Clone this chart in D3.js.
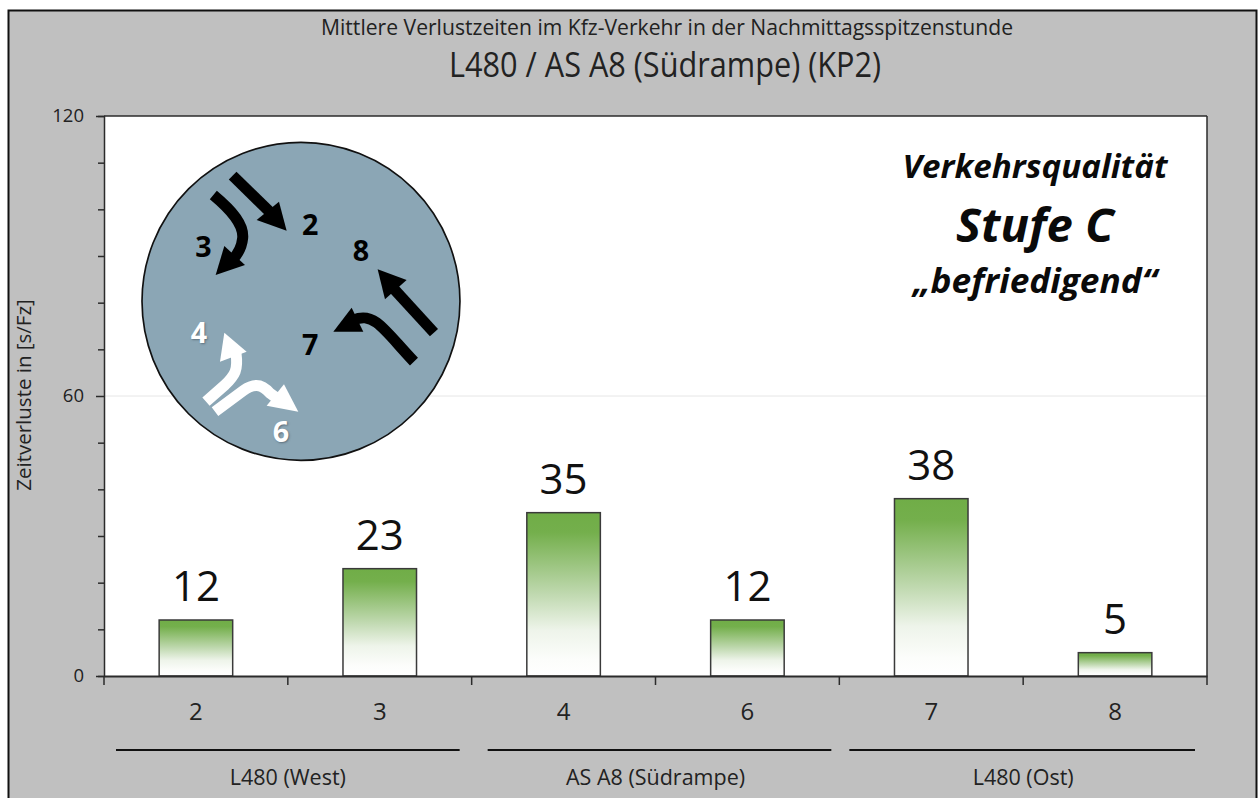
<!DOCTYPE html>
<html lang="de">
<head>
<meta charset="utf-8">
<title>Mittlere Verlustzeiten L480 / AS A8</title>
<script src="https://cdnjs.cloudflare.com/ajax/libs/d3/7.8.5/d3.min.js"></script>
<style>
html,body{margin:0;padding:0;background:#fff}
svg{display:block}
text{font-family:"Open Sans","Noto Sans",sans-serif;fill:#222}
</style>
</head>
<body>
<svg id="chart" width="1258" height="798"></svg>
<script>
// Chart content
const streams = ["2", "3", "4", "6", "7", "8"];
const delays = [12, 23, 35, 12, 38, 5];
const yMajorTicks = [0, 60, 120];
const yAllTicks = [0, 10, 20, 30, 40, 50, 60, 70, 80, 90, 100, 110, 120];
const approachNames = ["L480 (West)", "AS A8 (Südrampe)", "L480 (Ost)"];
const approachStreams = [["2", "3"], ["4", "6"], ["7", "8"]];
const approachInsets = [[12, 12], [16, 8], [10, 12]];
const titleLines = ["Mittlere Verlustzeiten im Kfz-Verkehr in der Nachmittagsspitzenstunde", "L480 / AS A8 (Südrampe) (KP2)"];
const yAxisLabel = "Zeitverluste in [s/Fz]";
const qualityLines = ["Verkehrsqualität", "Stufe C", "„befriedigend“"];

const svg = d3.select("#chart");
const plot = {left: 104, right: 1207, top: 116, bottom: 676};
const ink = "#2b2b2b";

const x = d3.scaleBand().domain(streams).range([plot.left, plot.right]).paddingInner(0.6).paddingOuter(0.3);
const slot = d3.scaleBand().domain(streams).range([plot.left, plot.right]);
const y = d3.scaleLinear().domain([0, 120]).range([plot.bottom, plot.top]);

// Grey page panel with its black frame, open at the lower edge
svg.append("rect").attr("width", 1258).attr("height", 798).attr("fill", "#fff");
svg.append("rect").attr("x", 8).attr("y", 10).attr("width", 1249).attr("height", 788).attr("fill", "#c0c0c0");
svg.append("path").attr("d", "M8.5,798V10.5H1256.5V798").attr("fill", "none").attr("stroke", "#111").attr("stroke-width", 2);

// Plot area
svg.append("rect").attr("x", plot.left).attr("y", plot.top)
  .attr("width", plot.right - plot.left).attr("height", plot.bottom - plot.top).attr("fill", "#fff");
svg.append("line").attr("x1", plot.left).attr("x2", plot.right).attr("y1", y(60)).attr("y2", y(60))
  .attr("stroke", "#e6e6e6").attr("stroke-width", 1);

// Bar fill fades from green into white
const defs = svg.append("defs");
const grad = defs.append("linearGradient").attr("id", "barFade").attr("x1", 0).attr("x2", 0).attr("y1", 0).attr("y2", 1);
[[0, "#70ad47"], [0.12, "#74af4c"], [0.5, "#c0d9b0"], [0.72, "#eef4ea"], [0.9, "#fcfdfb"], [1, "#ffffff"]]
  .forEach(s => grad.append("stop").attr("offset", s[0]).attr("stop-color", s[1]));

svg.append("g").selectAll("rect").data(streams).join("rect")
  .attr("x", d => x(d)).attr("width", x.bandwidth())
  .attr("y", (d, i) => y(delays[i])).attr("height", (d, i) => y(0) - y(delays[i]))
  .attr("fill", "url(#barFade)").attr("stroke", "#3a3a3a").attr("stroke-width", 1.5);

svg.append("g").selectAll("text").data(streams).join("text")
  .attr("x", d => x(d) + x.bandwidth() / 2)
  .attr("y", (d, i) => y(delays[i]) - 19)
  .attr("text-anchor", "middle").attr("font-size", 42).style("fill", "#111")
  .text((d, i) => delays[i]);

// Axes
const yAxis = svg.append("g").attr("transform", `translate(${plot.left},0)`)
  .call(d3.axisLeft(y).tickValues(yAllTicks).tickSize(6).tickPadding(14)
    .tickFormat(d => yMajorTicks.includes(d) ? d : ""));
yAxis.selectAll(".tick text").attr("font-size", 18.5).attr("font-family", null);
yAxis.selectAll(".tick line").attr("stroke", ink).attr("stroke-width", 1.5);
yAxis.selectAll(".tick").filter(d => yMajorTicks.includes(d)).select("line").attr("x2", -8);
yAxis.select(".domain").attr("stroke", ink).attr("stroke-width", 1.5);

svg.append("line").attr("x1", plot.left).attr("x2", plot.right).attr("y1", plot.top).attr("y2", plot.top)
  .attr("stroke", ink).attr("stroke-width", 1.5);
svg.append("line").attr("x1", plot.right).attr("x2", plot.right).attr("y1", plot.top).attr("y2", plot.bottom)
  .attr("stroke", ink).attr("stroke-width", 1.5);

const xAxis = svg.append("g").attr("transform", `translate(0,${plot.bottom})`)
  .call(d3.axisBottom(slot).tickSize(0).tickPadding(27));
xAxis.selectAll(".tick text").attr("font-size", 24).attr("font-family", null);
xAxis.select(".domain").attr("stroke", ink).attr("stroke-width", 2);
svg.append("g").selectAll("line").data([...streams.map(d => slot(d)), plot.right]).join("line")
  .attr("x1", d => d).attr("x2", d => d).attr("y1", plot.bottom).attr("y2", plot.bottom + 9)
  .attr("stroke", ink).attr("stroke-width", 1.5);

// Approach groups under the axis
approachNames.forEach((name, i) => {
  const [a, b] = approachStreams[i];
  const x0 = slot(a), x1 = slot(b) + slot.bandwidth();
  svg.append("line").attr("x1", x0 + approachInsets[i][0]).attr("x2", x1 - approachInsets[i][1])
    .attr("y1", 750).attr("y2", 750).attr("stroke", "#111").attr("stroke-width", 2);
  svg.append("text").attr("x", (x0 + x1) / 2).attr("y", 785).attr("text-anchor", "middle")
    .attr("font-size", 21.5).text(name);
});

// Titles
svg.append("text").attr("x", 667).attr("y", 35).attr("text-anchor", "middle").attr("font-size", 22)
  .attr("textLength", 692).attr("lengthAdjust", "spacingAndGlyphs").text(titleLines[0]);
svg.append("text").attr("x", 665).attr("y", 77).attr("text-anchor", "middle").attr("font-size", 34)
  .attr("textLength", 432).attr("lengthAdjust", "spacingAndGlyphs").text(titleLines[1]);

svg.append("text").attr("transform", "translate(31,395) rotate(-90)").attr("text-anchor", "middle")
  .attr("font-size", 20.5).text(yAxisLabel);

// Service level note
[[0, 178, 33, 265], [1, 242, 47, 158], [2, 293, 34, 244]].forEach(([i, py, fs, w]) => {
  svg.append("text").attr("x", 1035).attr("y", py).attr("text-anchor", "middle")
    .attr("font-size", fs).attr("font-weight", 700).attr("font-style", "italic")
    .attr("textLength", w).attr("lengthAdjust", "spacingAndGlyphs")
    .style("fill", "#0a0a0a").text(qualityLines[i]);
});

// Junction sketch: a disc with the turning streams
const sketch = svg.append("g").attr("transform", "translate(130,140) scale(0.3333)");
sketch.append("circle").attr("cx", 513).attr("cy", 484).attr("r", 477)
  .attr("fill", "#8ba6b5").attr("stroke", "#111").attr("stroke-width", 5);

const turningArrows = [
  {ink: "#000", shaft: "M308,107L432,228", head: "470,272 380,240 447,185"},
  {ink: "#000", shaft: "M250,165C310,215 342,255 338,295C335,325 322,345 305,362", head: "257,405 283,318 345,375"},
  {ink: "#000", shaft: "M912,578L792,447", head: "743,388 765,478 830,420"},
  {ink: "#000", shaft: "M852,665C800,610 770,570 740,548C715,530 695,530 670,540", head: "610,575 665,503 700,575"},
  {ink: "#fff", shaft: "M228,785L285,735C315,705 325,690 318,640", head: "283,578 270,665 350,635"},
  {ink: "#fff", shaft: "M255,815L340,752C370,730 395,730 420,760L445,778", head: "505,815 410,797 462,733"}
];
turningArrows.forEach(a => {
  sketch.append("path").attr("d", a.shaft).attr("fill", "none").attr("stroke", a.ink).attr("stroke-width", 33);
  sketch.append("polygon").attr("points", a.head).attr("fill", a.ink);
});

const streamMarks = [
  ["2", 541, 286, "#000"], ["3", 220, 352, "#000"], ["8", 693, 364, "#000"],
  ["7", 541, 645, "#000"], ["4", 207, 610, "#fff"], ["6", 453, 905, "#fff"]
];
sketch.selectAll("text").data(streamMarks).join("text")
  .attr("x", d => d[1]).attr("y", d => d[2]).attr("text-anchor", "middle")
  .attr("font-size", 86).attr("font-weight", 700)
  .style("text-shadow", d => d[3] === "#fff" ? "1px 1px 2px rgba(60,70,80,.55)" : "none")
  .style("fill", d => d[3]).text(d => d[0]);
</script>
</body>
</html>
